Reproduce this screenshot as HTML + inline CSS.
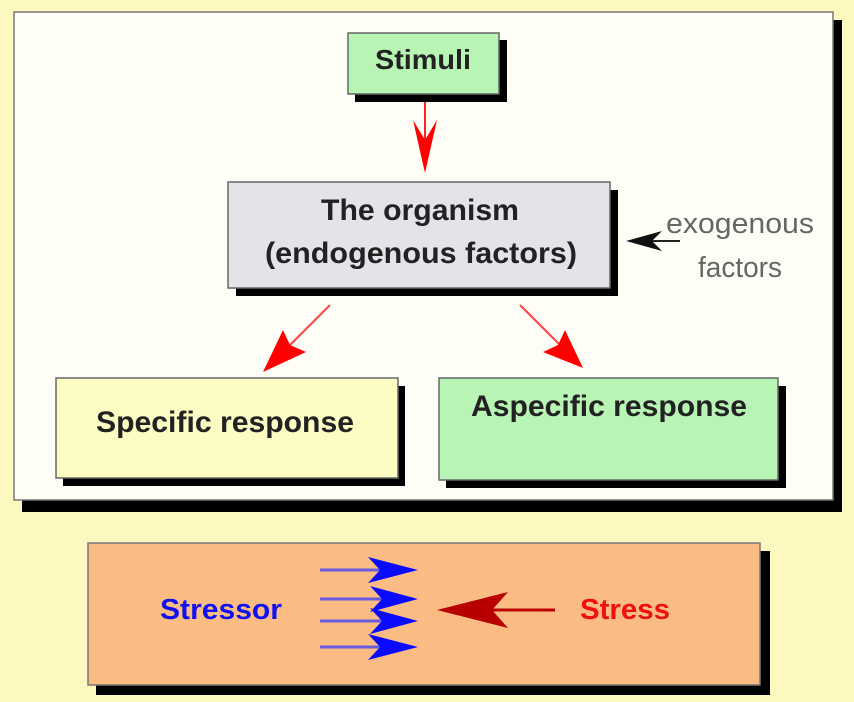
<!DOCTYPE html>
<html><head><style>
html,body{margin:0;padding:0;background:#fdf8c0;}
svg{display:block}
text{font-family:"Liberation Sans",sans-serif;}
</style></head><body>
<svg width="854" height="702" viewBox="0 0 854 702" xmlns="http://www.w3.org/2000/svg">
<rect width="854" height="702" fill="#fdf8c0"/>
<rect x="22" y="20" width="820" height="492" fill="#000"/>
<rect x="14" y="12" width="819" height="488" fill="#fefef7" stroke="#777" stroke-width="1.5"/>
<rect x="355" y="40" width="152" height="62" fill="#000"/>
<rect x="348" y="33" width="151" height="61" fill="#b8f4b4" stroke="#666" stroke-width="1.5"/>
<text x="423" y="69" font-size="28" font-weight="bold" text-anchor="middle" fill="#222" textLength="96" lengthAdjust="spacingAndGlyphs">Stimuli</text>
<rect x="236" y="190" width="382" height="106" fill="#000"/>
<rect x="228" y="182" width="382" height="106" fill="#e6e2ea" stroke="#666" stroke-width="1.5"/>
<text x="420" y="220" font-size="30" font-weight="bold" text-anchor="middle" fill="#222" textLength="198" lengthAdjust="spacingAndGlyphs">The organism</text>
<text x="421" y="263" font-size="30" font-weight="bold" text-anchor="middle" fill="#222" textLength="312" lengthAdjust="spacingAndGlyphs">(endogenous factors)</text>
<text x="740" y="233" font-size="29" text-anchor="middle" fill="#666" textLength="148" lengthAdjust="spacingAndGlyphs">exogenous</text>
<text x="740" y="277" font-size="29" text-anchor="middle" fill="#666" textLength="84" lengthAdjust="spacingAndGlyphs">factors</text>
<line x1="680" y1="241" x2="645" y2="241" stroke="#222" stroke-width="2"/>
<polygon points="626,241 662,231 652,241 662,251" fill="#111"/>
<rect x="63" y="386" width="342" height="100" fill="#000"/>
<rect x="56" y="378" width="342" height="100" fill="#fcfcc4" stroke="#666" stroke-width="1.5"/>
<text x="225" y="432" font-size="30" font-weight="bold" text-anchor="middle" fill="#222" textLength="258" lengthAdjust="spacingAndGlyphs">Specific response</text>
<rect x="446" y="386" width="340" height="102" fill="#000"/>
<rect x="439" y="378" width="339" height="102" fill="#b8f4b4" stroke="#666" stroke-width="1.5"/>
<text x="609" y="416" font-size="30" font-weight="bold" text-anchor="middle" fill="#222" textLength="276" lengthAdjust="spacingAndGlyphs">Aspecific response</text>
<line x1="425" y1="102" x2="425" y2="150" stroke="#f22" stroke-width="2"/>
<polygon points="425,173 413,120 425,140 437,120" fill="#f00"/>
<line x1="330" y1="305" x2="290" y2="345" stroke="#f44" stroke-width="2"/>
<polygon points="263,372 283,330 290,345 306,352" fill="#f00"/>
<line x1="520" y1="305" x2="560" y2="345" stroke="#f44" stroke-width="2"/>
<polygon points="583,368 543,352 558,345 565,330" fill="#f00"/>
<rect x="96" y="551" width="674" height="144" fill="#000"/>
<rect x="88" y="543" width="672" height="142" fill="#fbbc84" stroke="#777" stroke-width="1.5"/>
<text x="221" y="619" font-size="29" font-weight="bold" text-anchor="middle" fill="#1010f0" textLength="122" lengthAdjust="spacingAndGlyphs">Stressor</text>
<text x="625" y="619" font-size="29" font-weight="bold" text-anchor="middle" fill="#f01010" textLength="90" lengthAdjust="spacingAndGlyphs">Stress</text>
<g stroke="#6a5ae0" stroke-width="3">
<line x1="320" y1="570" x2="385" y2="570"/>
<line x1="320" y1="599" x2="385" y2="599"/>
<line x1="320" y1="621" x2="385" y2="621"/>
<line x1="320" y1="647" x2="385" y2="647"/>
</g>
<g fill="#0a0aff">
<polygon points="418,570 368,557 380,570 368,583"/>
<polygon points="418,599 370,586 382,599 370,612"/>
<polygon points="418,621 370,608 382,621 370,634"/>
<polygon points="418,647 368,634 380,647 368,660"/>
</g>
<line x1="555" y1="610" x2="490" y2="610" stroke="#b00" stroke-width="3"/>
<polygon points="437,610 508,592 492,610 508,628" fill="#b80000"/>
</svg>
</body></html>
